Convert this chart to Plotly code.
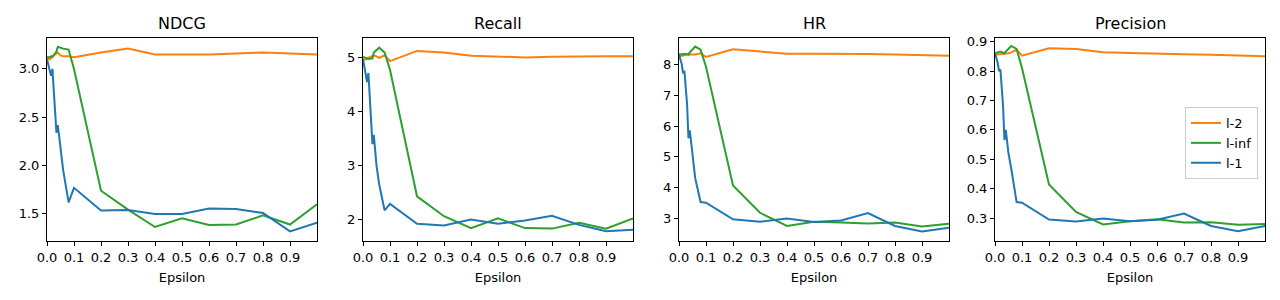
import plotly.graph_objects as go

epsilon = [0, 0.01, 0.015, 0.02, 0.03, 0.035, 0.04, 0.05, 0.06, 0.08, 0.1,
           0.2, 0.3, 0.4, 0.5, 0.6, 0.7, 0.8, 0.9, 1.0]

metrics = ["NDCG", "Recall", "HR", "Precision"]
series_names = ["l-2", "l-inf", "l-1"]
colors = ["#ff7f0e", "#2ca02c", "#1f77b4"]

ndcg_l2 = [3.11, 3.10, 3.11, 3.12, 3.15, 3.16, 3.17, 3.14, 3.13, 3.13, 3.12,
           3.17, 3.21, 3.15, 3.15, 3.15, 3.16, 3.17, 3.16, 3.15]
ndcg_linf = [3.12, 3.12, 3.13, 3.13, 3.16, 3.18, 3.23, 3.22, 3.21, 3.20, 3.00,
             1.74, 1.545, 1.365, 1.455, 1.385, 1.39, 1.485, 1.39, 1.60]
ndcg_l1 = [3.10, 3.00, 2.93, 3.00, 2.62, 2.34, 2.42, 2.20, 1.95, 1.62, 1.77,
           1.535, 1.54, 1.50, 1.50, 1.555, 1.55, 1.51, 1.32, 1.41]

recall_l2 = [4.96, 4.97, 4.98, 5.00, 5.02, 5.04, 5.05, 5.03, 5.00, 5.05, 4.94,
             5.13, 5.10, 5.04, 5.02, 5.01, 5.02, 5.03, 5.03, 5.03]
recall_linf = [5.02, 5.00, 4.99, 4.98, 4.99, 4.99, 5.10, 5.15, 5.19, 5.10, 4.78,
               2.43, 2.06, 1.84, 2.02, 1.84, 1.83, 1.94, 1.83, 2.02]
recall_l1 = [4.98, 4.72, 4.55, 4.72, 3.90, 3.40, 3.57, 3.00, 2.65, 2.17, 2.29,
             1.92, 1.89, 2.00, 1.92, 1.98, 2.07, 1.90, 1.78, 1.81]

hr_l2 = [8.27, 8.29, 8.31, 8.33, 8.33, 8.33, 8.33, 8.33, 8.33, 8.37, 8.25,
         8.50, 8.44, 8.36, 8.36, 8.36, 8.35, 8.33, 8.31, 8.29]
hr_linf = [8.33, 8.34, 8.35, 8.35, 8.34, 8.33, 8.40, 8.50, 8.59, 8.49, 7.93,
           4.06, 3.17, 2.74, 2.88, 2.85, 2.82, 2.85, 2.72, 2.81]
hr_l1 = [8.33, 8.02, 7.72, 7.80, 6.70, 5.60, 5.86, 5.00, 4.30, 3.52, 3.50,
         2.96, 2.88, 2.98, 2.87, 2.92, 3.16, 2.74, 2.56, 2.68]

prec_l2 = [0.855, 0.856, 0.857, 0.857, 0.857, 0.857, 0.857, 0.860, 0.863, 0.872, 0.852,
           0.877, 0.875, 0.864, 0.861, 0.858, 0.857, 0.855, 0.852, 0.850]
prec_linf = [0.860, 0.864, 0.866, 0.866, 0.862, 0.860, 0.866, 0.876, 0.885, 0.875, 0.810,
             0.415, 0.322, 0.279, 0.290, 0.297, 0.286, 0.287, 0.278, 0.281]
prec_l1 = [0.860, 0.827, 0.800, 0.805, 0.680, 0.565, 0.600, 0.520, 0.470, 0.355, 0.353,
           0.296, 0.289, 0.299, 0.290, 0.295, 0.316, 0.274, 0.256, 0.274]

data = {
    "NDCG": [ndcg_l2, ndcg_linf, ndcg_l1],
    "Recall": [recall_l2, recall_linf, recall_l1],
    "HR": [hr_l2, hr_linf, hr_l1],
    "Precision": [prec_l2, prec_linf, prec_l1],
}

x_ticks = [0.0, 0.1, 0.2, 0.3, 0.4, 0.5, 0.6, 0.7, 0.8, 0.9]
y_ticks = {
    "NDCG": [1.5, 2.0, 2.5, 3.0],
    "Recall": [2, 3, 4, 5],
    "HR": [3, 4, 5, 6, 7, 8],
    "Precision": [0.3, 0.4, 0.5, 0.6, 0.7, 0.8, 0.9],
}
y_fmt = {"NDCG": ".1f", "Recall": "d", "HR": "d", "Precision": ".1f"}
y_ranges = {
    "NDCG": [1.22, 3.32],
    "Recall": [1.60, 5.37],
    "HR": [2.25, 8.87],
    "Precision": [0.223, 0.912],
}

W, H = 1280, 300
x_px = [(47, 317), (363, 633), (679, 949), (995, 1265)]
y_dom = [1 - 241 / H, 1 - 38 / H]

fig = go.Figure()
layout = dict(
    width=W, height=H,
    margin=dict(l=0, r=0, t=0, b=0, autoexpand=False),
    paper_bgcolor="white", plot_bgcolor="white",
    font=dict(family="DejaVu Sans", size=13, color="black"),
    showlegend=True,
    legend=dict(x=1258 / W, y=1 - 107 / H, xanchor="right", yanchor="top",
                bgcolor="rgba(255,255,255,0.8)", bordercolor="#cccccc", borderwidth=1,
                font=dict(size=13), traceorder="normal", tracegroupgap=0,
                itemwidth=30),
)
annotations = []
for i, m in enumerate(metrics):
    sfx = "" if i == 0 else str(i + 1)
    xa, ya = "x" + sfx, "y" + sfx
    for j, name in enumerate(series_names):
        fig.add_trace(go.Scatter(
            x=epsilon, y=data[m][j], mode="lines", name=name,
            line=dict(color=colors[j], width=2),
            xaxis=xa, yaxis=ya, showlegend=(i == 3), legendgroup=name,
        ))
    layout["xaxis" + sfx] = dict(
        domain=[x_px[i][0] / W, x_px[i][1] / W], anchor=ya, range=[0, 1],
        tickvals=x_ticks, tickformat=".1f", showgrid=False, zeroline=False,
        showline=True, linecolor="black", linewidth=1, mirror=True,
        ticks="outside", ticklen=4, tickcolor="black", automargin=False,
        title=dict(text="Epsilon", font=dict(size=13), standoff=9),
    )
    layout["yaxis" + sfx] = dict(
        domain=y_dom, anchor=xa, range=y_ranges[m],
        tickvals=y_ticks[m], tickformat=y_fmt[m], showgrid=False, zeroline=False,
        showline=True, linecolor="black", linewidth=1, mirror=True,
        ticks="outside", ticklen=4, tickcolor="black", automargin=False,
    )
    annotations.append(dict(
        text=m, x=(x_px[i][0] + x_px[i][1]) / 2 / W, y=1 - 23 / H,
        xref="paper", yref="paper", showarrow=False,
        font=dict(size=16), xanchor="center", yanchor="middle",
    ))
layout["annotations"] = annotations
fig.update_layout(**layout)
fig.write_html("out.html", config={"displayModeBar": False},
               post_script="document.body.style.margin='0';document.body.style.padding='0';")
